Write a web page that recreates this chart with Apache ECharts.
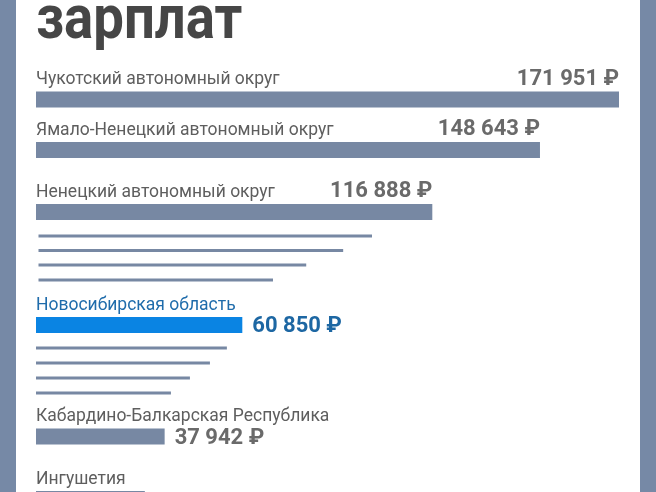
<!DOCTYPE html>
<html>
<head>
<meta charset="utf-8">
<title>Зарплаты по регионам</title>
<style>
    html, body { margin: 0; padding: 0; width: 656px; height: 492px; overflow: hidden; background: #7689a6; }
    #main { position: absolute; left: 16px; top: 0; width: 624px; height: 492px; background: #fff; }
</style>
</head>
<body>
<div id="main"></div>
<script src="https://cdn.jsdelivr.net/npm/echarts@6/dist/echarts.min.js"></script>
<script>
    // регионы и средние зарплаты (безымянные строки - регионы без подписи)
    var regions = [
        'Чукотский автономный округ',
        'Ямало-Ненецкий автономный округ',
        'Ненецкий автономный округ',
        '', '', '', '',
        'Новосибирская область',
        '', '', '', '',
        'Кабардино-Балкарская Республика',
        'Ингушетия'
    ];
    var salaries = [171951, 148643, 116888, 99100, 90600, 79700, 69900, 60850, 56300, 51300, 45400, 39800, 37942, 32100];
    var highlight = 'Новосибирская область';

    // раскладка строк: центр полосы (px сверху) и тип строки
    var rowY = [99.5, 150, 212, 236, 250.5, 265, 280, 325, 348, 363, 378, 393, 436.5, 499];
    var rowKind = ['top', 'top', 'top', 'line', 'line', 'line', 'line', 'side', 'line', 'line', 'line', 'line', 'side', 'side'];

    var FONT = 'Roboto, "Noto Sans", sans-serif';

    function fmt(v) {
        return String(v).replace(/\B(?=(\d{3})+(?!\d))/g, ' ') + ' ₽';
    }

    function renderItem(params, api) {
        var i = params.dataIndex;
        var v = api.value(0);
        var kind = rowKind[i];
        var h = kind === 'line' ? 3 : 16;
        var p0 = api.coord([0, api.value(1)]);
        var p1 = api.coord([v, api.value(1)]);
        var hi = regions[i] === highlight;
        var top = p0[1] - h / 2;
        // верхняя группа тонких линий чуть смещена вправо
        var x0 = (kind === 'line' && i < 7) ? p0[0] + 2.5 : p0[0];
        var kids = [{
            type: 'rect',
            shape: { x: x0, y: top, width: p1[0] - x0, height: h },
            style: { fill: hi ? '#0a84e3' : '#7788a3' }
        }];
        if (kind !== 'line') {
            var base = top - 5.5;
            kids.push({
                type: 'text',
                style: {
                    text: regions[i], x: p0[0], y: base - 6,
                    align: 'left', verticalAlign: 'middle',
                    font: '17.5px ' + FONT, fill: hi ? '#1f6cab' : '#5e5e5e'
                }
            });
            var vs = { text: fmt(v), font: 'bold 22px ' + FONT, fill: hi ? '#1d67a3' : '#6a6a6a' };
            if (kind === 'top') {
                vs.x = p1[0]; vs.y = base - 1 - 6; vs.align = 'right'; vs.verticalAlign = 'middle';
            } else {
                vs.x = p1[0] + 10; vs.y = p0[1] + 1.5; vs.align = 'left'; vs.verticalAlign = 'middle';
            }
            // подпись последней строки уходит за нижний край кадра
            if (top + h <= api.getHeight()) kids.push({ type: 'text', style: vs });
        }
        return { type: 'group', children: kids };
    }

    var myChart = echarts.init(document.getElementById('main'));
    var option = {
        animation: false,
        graphic: [{
            type: 'text', x: 20, y: 22, scaleX: 0.88,
            style: { text: 'зарплат', font: 'bold 62px ' + FONT, fill: '#464646', align: 'left', verticalAlign: 'middle' }
        }],
        grid: { left: 20, right: 21, top: 0, bottom: 0 },
        xAxis: { type: 'value', min: 0, max: Math.max.apply(null, salaries), show: false },
        yAxis: { type: 'value', inverse: true, min: 0, max: 492, show: false },
        series: [{
            type: 'custom',
            renderItem: renderItem,
            data: salaries.map(function (v, i) { return [v, rowY[i]]; })
        }]
    };
    myChart.setOption(option);
</script>
</body>
</html>
